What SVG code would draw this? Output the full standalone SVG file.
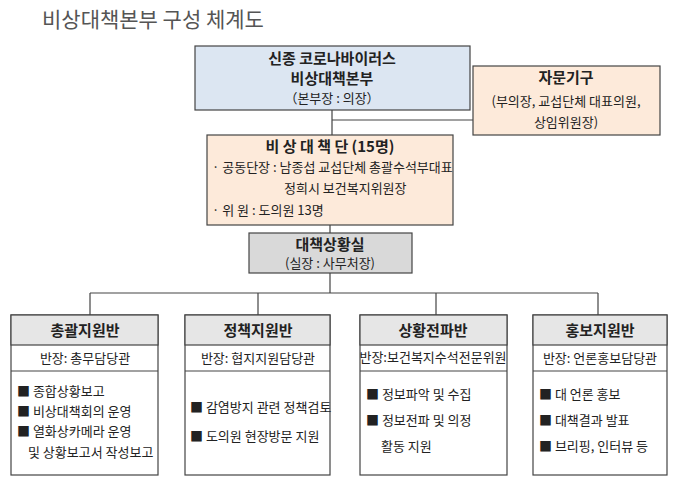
<svg xmlns="http://www.w3.org/2000/svg" width="680" height="484" viewBox="0 0 680 484" xml:space="preserve">
<style>
text{font-family:"Noto Sans CJK KR","Noto Sans",sans-serif;fill:#222}
.b{stroke:#444;stroke-width:1.2}
.t{font-size:15px;font-weight:bold;text-anchor:middle}
.s{font-size:13px;text-anchor:middle}
.l{font-size:13px}
.c{stroke:#444;stroke-width:1.2;fill:none}
</style>
<rect width="680" height="484" fill="#fff"/>
<text x="42" y="27" font-size="21" style="fill:#555">비상대책본부  구성  체계도</text>
<g id="connectors">
<path class="c" d="M332 110V135M332 120H473M330 225V233M330 273V293M90 293H598M90 293V315M258 293V315M436 293V315M598 293V315"/>
</g>
<g id="hq"><rect class="b" x="195" y="46" width="275" height="64" fill="#dce6f2"/>
<text class="t" x="332" y="64">신종  코로나바이러스</text><text class="t" x="332" y="84">비상대책본부</text><text class="s" x="332" y="103">（본부장 : 의장）</text></g>
<g id="advisory"><rect class="b" x="473" y="66" width="187" height="69" fill="#fdeada"/>
<text class="t" x="566" y="83">자문기구</text><text class="s" x="566" y="106" font-size="12">(부의장, 교섭단체 대표의원,</text><text class="s" x="566" y="127" font-size="12">상임위원장)</text></g>
<g id="team"><rect class="b" x="207" y="135" width="246" height="90" fill="#fdeada"/>
<text class="t" x="330" y="152">비 상 대 책 단 (15명)</text>
<text class="l" x="212" y="172" font-size="11.5">· 공동단장 : 남종섭 교섭단체 총괄수석부대표</text>
<text class="l" x="284" y="193">정희시  보건복지위원장</text>
<text class="l" x="212" y="215">· 위  원  :  도의원 13명</text></g>
<g id="room"><rect class="b" x="249" y="233" width="163" height="40" fill="#d9d9d9"/>
<text class="t" x="330" y="250" font-size="14">대책상황실</text><text class="s" x="330" y="268">(실장 : 사무처장)</text></g>
<g id="g1"><rect class="b" x="11" y="315" width="147" height="160" fill="#fff"/><rect class="b" x="11" y="315" width="147" height="30" fill="#e6e6e6"/><line class="b" x1="11" y1="371" x2="158" y2="371"/>
<text class="t" x="85" y="336">총괄지원반</text><text class="s" x="85" y="363">반장:  총무담당관</text>
<text class="l" x="17" y="396">■ 종합상황보고</text><text class="l" x="17" y="416">■ 비상대책회의  운영</text><text class="l" x="17" y="436">■ 열화상카메라  운영</text><text class="l" x="28" y="457">및 상황보고서 작성보고</text></g>
<g id="g2"><rect class="b" x="185" y="315" width="145" height="160" fill="#fff"/><rect class="b" x="185" y="315" width="145" height="30" fill="#e6e6e6"/><line class="b" x1="185" y1="371" x2="330" y2="371"/>
<text class="t" x="258" y="336">정책지원반</text><text class="s" x="258" y="363">반장:  협지지원담당관</text>
<text class="l" x="190" y="412" font-size="12">■ 감염방지 관련 정책검토</text><text class="l" x="190" y="441">■ 도의원 현장방문 지원</text></g>
<g id="g3"><rect class="b" x="360" y="315" width="147" height="160" fill="#fff"/><rect class="b" x="360" y="315" width="147" height="30" fill="#e6e6e6"/><line class="b" x1="360" y1="371" x2="507" y2="371"/>
<text class="t" x="433" y="336">상황전파반</text><text class="s" x="433" y="362" font-size="11">반장:보건복지수석전문위원</text>
<text class="l" x="366" y="399">■ 정보파악  및  수집</text><text class="l" x="366" y="425">■ 정보전파  및  의정</text><text class="l" x="381" y="451">활동  지원</text></g>
<g id="g4"><rect class="b" x="533" y="315" width="134" height="160" fill="#fff"/><rect class="b" x="533" y="315" width="134" height="30" fill="#e6e6e6"/><line class="b" x1="533" y1="371" x2="667" y2="371"/>
<text class="t" x="600" y="336">홍보지원반</text><text class="s" x="600" y="363">반장:  언론홍보담당관</text>
<text class="l" x="539" y="399">■ 대  언론  홍보</text><text class="l" x="539" y="425">■ 대책결과  발표</text><text class="l" x="539" y="451">■ 브리핑,  인터뷰  등</text></g>
</svg>
